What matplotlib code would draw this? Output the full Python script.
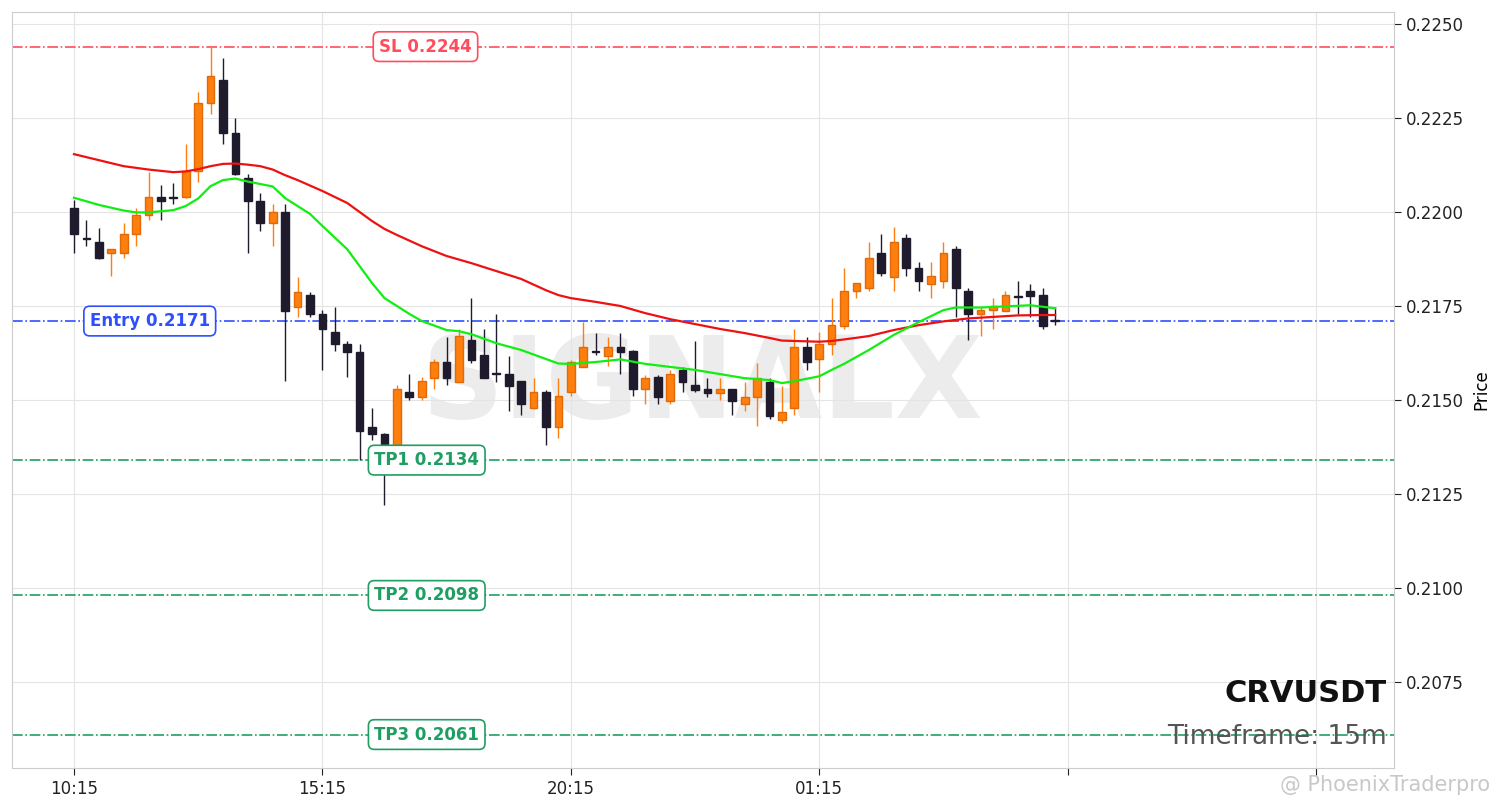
import pandas as pd
import matplotlib
matplotlib.use('Agg')
import matplotlib.pyplot as plt

plt.rcParams['font.family'] = ['DejaVu Sans']

# 15m candles, CRVUSDT
times = pd.date_range('2024-01-01 10:15', periods=80, freq='15min')

opens = [0.22010, 0.21932, 0.21920, 0.21890, 0.21890, 0.21941, 0.21991, 0.22039, 0.22040, 0.22039,
         0.22110, 0.22289, 0.22351, 0.22209, 0.22090, 0.22030, 0.21970, 0.21999, 0.21748, 0.21779,
         0.21730, 0.21680, 0.21648, 0.21628, 0.21429, 0.21409, 0.21380, 0.21520, 0.21509, 0.21559,
         0.21600, 0.21548, 0.21659, 0.21620, 0.21573, 0.21568, 0.21550, 0.21478, 0.21520, 0.21429,
         0.21520, 0.21588, 0.21630, 0.21618, 0.21640, 0.21630, 0.21528, 0.21560, 0.21498, 0.21580,
         0.21539, 0.21529, 0.21519, 0.21529, 0.21488, 0.21509, 0.21548, 0.21448, 0.21478, 0.21640,
         0.21608, 0.21648, 0.21697, 0.21790, 0.21799, 0.21890, 0.21828, 0.21930, 0.21850, 0.21808,
         0.21817, 0.21901, 0.21790, 0.21729, 0.21739, 0.21737, 0.21777, 0.21790, 0.21779, 0.21712]
highs = [0.22032, 0.21980, 0.21958, 0.21902, 0.21970, 0.22010, 0.22107, 0.22072, 0.22078, 0.22180,
         0.22320, 0.22441, 0.22410, 0.22249, 0.22100, 0.22050, 0.22021, 0.22021, 0.21828, 0.21788,
         0.21739, 0.21748, 0.21657, 0.21648, 0.21478, 0.21412, 0.21540, 0.21568, 0.21562, 0.21609,
         0.21668, 0.21690, 0.21770, 0.21690, 0.21730, 0.21618, 0.21551, 0.21559, 0.21526, 0.21559,
         0.21606, 0.21708, 0.21679, 0.21668, 0.21679, 0.21632, 0.21566, 0.21566, 0.21580, 0.21588,
         0.21658, 0.21559, 0.21559, 0.21530, 0.21548, 0.21599, 0.21559, 0.21537, 0.21690, 0.21668,
         0.21680, 0.21770, 0.21850, 0.21811, 0.21919, 0.21941, 0.21959, 0.21941, 0.21868, 0.21868,
         0.21919, 0.21909, 0.21798, 0.21748, 0.21770, 0.21790, 0.21817, 0.21808, 0.21798, 0.21748]
lows = [0.21892, 0.21909, 0.21876, 0.21830, 0.21878, 0.21909, 0.21980, 0.21980, 0.22021, 0.22038,
        0.22081, 0.22261, 0.22181, 0.22099, 0.21892, 0.21949, 0.21909, 0.21551, 0.21720, 0.21720,
        0.21580, 0.21630, 0.21562, 0.21340, 0.21393, 0.21221, 0.21372, 0.21500, 0.21500, 0.21528,
        0.21540, 0.21547, 0.21599, 0.21558, 0.21548, 0.21470, 0.21460, 0.21477, 0.21380, 0.21400,
        0.21510, 0.21587, 0.21619, 0.21591, 0.21569, 0.21510, 0.21489, 0.21489, 0.21489, 0.21520,
        0.21520, 0.21509, 0.21500, 0.21460, 0.21470, 0.21431, 0.21449, 0.21438, 0.21460, 0.21580,
        0.21520, 0.21619, 0.21690, 0.21770, 0.21790, 0.21830, 0.21790, 0.21830, 0.21790, 0.21770,
        0.21798, 0.21721, 0.21659, 0.21670, 0.21690, 0.21736, 0.21729, 0.21720, 0.21690, 0.21699]
closes = [0.21941, 0.21928, 0.21878, 0.21901, 0.21941, 0.21991, 0.22039, 0.22030, 0.22038, 0.22110,
          0.22289, 0.22362, 0.22209, 0.22100, 0.22030, 0.21970, 0.21999, 0.21737, 0.21788, 0.21730,
          0.21690, 0.21648, 0.21628, 0.21418, 0.21409, 0.21380, 0.21528, 0.21509, 0.21550, 0.21600,
          0.21559, 0.21670, 0.21606, 0.21559, 0.21570, 0.21538, 0.21488, 0.21520, 0.21429, 0.21510,
          0.21600, 0.21640, 0.21627, 0.21640, 0.21628, 0.21528, 0.21559, 0.21509, 0.21569, 0.21548,
          0.21526, 0.21519, 0.21529, 0.21498, 0.21509, 0.21559, 0.21458, 0.21469, 0.21640, 0.21600,
          0.21648, 0.21699, 0.21790, 0.21810, 0.21879, 0.21839, 0.21919, 0.21850, 0.21817, 0.21830,
          0.21890, 0.21798, 0.21729, 0.21739, 0.21750, 0.21779, 0.21774, 0.21777, 0.21697, 0.21709]

# moving averages (candle index, value)
ma_slow_idx = [0, 2, 4, 6, 8, 9, 10, 11, 12, 13, 14, 15, 16, 17, 18, 20, 22, 23, 24, 25, 26, 28, 30,
               32, 34, 36, 38, 39, 40, 42, 44, 46, 48, 50, 52, 54, 56, 57, 60, 61, 62, 64, 66, 68,
               70, 72, 74, 76, 78, 79]
ma_slow = [0.22154, 0.22138, 0.22122, 0.22113, 0.22106, 0.22108, 0.22114, 0.22122, 0.22128, 0.22129,
           0.22126, 0.22122, 0.22113, 0.22098, 0.22085, 0.22056, 0.22024, 0.22000, 0.21976, 0.21955,
           0.21939, 0.21909, 0.21883, 0.21864, 0.21843, 0.21822, 0.21792, 0.21779, 0.21771, 0.21761,
           0.21750, 0.21731, 0.21715, 0.21702, 0.21689, 0.21678, 0.21665, 0.21658, 0.21655, 0.21657,
           0.21661, 0.21670, 0.21686, 0.21699, 0.21709, 0.21717, 0.21721, 0.21725, 0.21726, 0.21726]
ma_fast_idx = [0, 2, 4, 5, 6, 8, 9, 10, 11, 12, 13, 14, 16, 17, 18, 19, 20, 22, 23, 24, 25, 26, 27,
               28, 30, 31, 32, 34, 36, 38, 39, 40, 42, 44, 46, 48, 50, 52, 54, 56, 57, 58, 60, 61,
               62, 64, 66, 68, 70, 71, 73, 75, 77, 79]
ma_fast = [0.22038, 0.22019, 0.22004, 0.21999, 0.21999, 0.22005, 0.22016, 0.22036, 0.22069, 0.22085,
           0.22089, 0.22081, 0.22068, 0.22037, 0.22016, 0.21995, 0.21963, 0.21901, 0.21856, 0.21811,
           0.21771, 0.21750, 0.21729, 0.21710, 0.21686, 0.21683, 0.21675, 0.21651, 0.21633, 0.21609,
           0.21597, 0.21596, 0.21601, 0.21608, 0.21596, 0.21588, 0.21580, 0.21569, 0.21558, 0.21553,
           0.21545, 0.21550, 0.21563, 0.21580, 0.21596, 0.21633, 0.21673, 0.21707, 0.21739, 0.21746,
           0.21746, 0.21749, 0.21752, 0.21744]

entry = 0.2171
sl = 0.2244
tps = [0.2134, 0.2098, 0.2061]

bull_col = '#ff7f0e'
bull_edge = '#e0690a'
bear_col = '#1f1b2d'

fig = plt.figure(figsize=(15.01, 8.08), dpi=100)
ax = fig.add_axes([0.008, 0.0495, 0.9207, 0.9356])

# watermark
ax.text(0.5, 0.463, 'SIGNALX', transform=ax.transAxes, ha='center', va='baseline',
        fontsize=82, fontweight='bold', color='grey', alpha=0.15, zorder=0)

x = list(range(len(times)))
for i in x:
    o, h, l, c = opens[i], highs[i], lows[i], closes[i]
    up = c >= o
    col = bull_col if up else bear_col
    ec = bull_edge if up else bear_col
    ax.vlines(i, l, h, color=col, linewidth=1.0, zorder=2)
    ax.bar(i, abs(c - o), bottom=min(o, c), width=0.62, color=col, edgecolor=ec,
           linewidth=1.0, zorder=3)

ax.plot(ma_slow_idx, ma_slow, color='#ee1111', linewidth=1.6, zorder=4)
ax.plot(ma_fast_idx, ma_fast, color='#11ee11', linewidth=1.6, zorder=4)

# levels
sl_col = '#ff4d5e'
en_col = '#2f4fff'
tp_col = '#1f9e63'
ax.axhline(sl, color=sl_col, linestyle='-.', linewidth=1.2, zorder=1)
ax.axhline(entry, color=en_col, linestyle='-.', linewidth=1.2, zorder=1)
for tp in tps:
    ax.axhline(tp, color=tp_col, linestyle='-.', linewidth=1.2, zorder=1)

def level_label(xpos, y, txt, col):
    ax.text(xpos, y, txt, ha='center', va='center', fontsize=12, fontweight='bold', color=col,
            zorder=6, bbox=dict(boxstyle='round,pad=0.35', facecolor='white', edgecolor=col,
                                linewidth=1.2))

level_label(28.3, sl, f'SL {sl:.4f}', sl_col)
level_label(6.1, entry, f'Entry {entry:.4f}', en_col)
for k, tp in enumerate(tps):
    level_label(28.4, tp, f'TP{k + 1} {tp:.4f}', tp_col)

# axes styling
ax.set_xlim(-4.99, 106.28)
ax.set_ylim(0.20521, 0.22532)
ax.yaxis.tick_right()
ax.yaxis.set_label_position('right')
ax.set_ylabel('Price', fontsize=12, labelpad=6)
yt = [0.2075, 0.2100, 0.2125, 0.2150, 0.2175, 0.2200, 0.2225, 0.2250]
ax.set_yticks(yt)
ax.set_yticklabels([f'{v:.4f}' for v in yt])
xt = [0, 20, 40, 60, 80, 100]
ax.set_xticks(xt)
ax.set_xticklabels([times[t].strftime('%H:%M') if t < len(times) else '' for t in xt])
ax.tick_params(axis='both', labelsize=12, length=5, colors='#222222')
ax.grid(True, color='#e4e4e4', linewidth=0.8, zorder=0)
ax.set_axisbelow(True)
for s in ax.spines.values():
    s.set_color('#cccccc')

ax.text(0.995, 0.098, 'CRVUSDT', transform=ax.transAxes, ha='right', va='center',
        fontsize=22, fontweight='bold', color='#111111', zorder=7)
ax.text(0.995, 0.041, 'Timeframe: 15m', transform=ax.transAxes, ha='right', va='center',
        fontsize=19, color='#555555', zorder=7)

fig.text(0.993, 0.028, '@ PhoenixTraderpro', ha='right', va='center', fontsize=15,
         color='#bbbbbb', alpha=0.8)

fig.savefig('out.png', dpi=100)
